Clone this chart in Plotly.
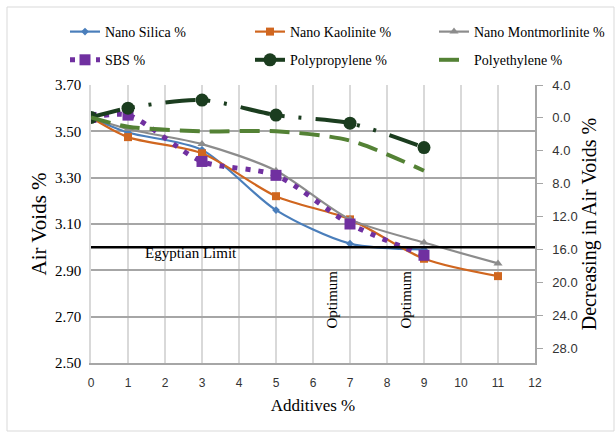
import plotly.graph_objects as go

# ---- data ----
additives_6 = [0, 1, 3, 5, 7, 9]
additives_7 = [0, 1, 3, 5, 7, 9, 11]
nano_silica = [3.56, 3.495, 3.42, 3.16, 3.015, 2.99]
nano_kaolinite = [3.56, 3.475, 3.405, 3.22, 3.12, 2.95, 2.875]
nano_montmorillonite = [3.56, 3.51, 3.445, 3.33, 3.12, 3.02, 2.93]
sbs = [3.56, 3.57, 3.37, 3.31, 3.10, 2.965]
polypropylene = [3.56, 3.60, 3.635, 3.57, 3.535, 3.43]
polyethylene = [3.56, 3.52, 3.50, 3.50, 3.46, 3.33]

x_ticks = list(range(0, 13))
left_ticks = [2.50, 2.70, 2.90, 3.10, 3.30, 3.50, 3.70]
right_ticks = [-4, 0, 4, 8, 12, 16, 20, 24, 28]
right_tick_text = ["4.0", "0.0", "4.0", "8.0", "12.0", "16.0", "20.0", "24.0", "28.0"]
right_range = [29.8, -4.0]
egyptian_limit = 3.00
optimum_x = [7, 9]
y_min, y_max = 2.50, 3.70

SERIF = "Liberation Serif"
SANS = "Liberation Sans"

fig = go.Figure()

def add(name, x, y, color, width, dash, symbol, msize, legend):
    fig.add_trace(go.Scatter(
        x=x, y=y, name=name, mode="lines+markers" if symbol else "lines",
        line=dict(color=color, width=width, dash=dash, shape="spline", smoothing=0.8),
        marker=dict(symbol=symbol or "circle", size=msize, color=color),
        legend=legend, legendgroup=name,
    ))

add("Nano Silica %", additives_6, nano_silica, "#4a7ebb", 2.2, "solid", "diamond", 6, "legend")
add("Nano Kaolinite %", additives_7, nano_kaolinite, "#d0661f", 2.2, "solid", "square", 8, "legend2")
add("Nano Montmorlinite %", additives_7, nano_montmorillonite, "#8c8c8c", 2.2, "solid", "triangle-up", 8, "legend3")
add("SBS %", additives_6, sbs, "#7030a0", 5, "5px,8px", "square", 11, "legend")
add("Polypropylene %", additives_6, polypropylene, "#1b3d1f", 4, "30px,12px,3px,14px,3px,14px", "circle", 13, "legend2")
add("Polyethylene %", additives_6, polyethylene, "#548235", 4, "20px,10px", None, 0, "legend3")

# empty trace so the secondary (right) axis is drawn
fig.add_trace(go.Scatter(x=[], y=[], yaxis="y2", showlegend=False, hoverinfo="skip"))

# Egyptian limit line
fig.add_shape(type="line", xref="x", yref="y", x0=x_ticks[0], x1=x_ticks[-1],
              y0=egyptian_limit, y1=egyptian_limit, line=dict(color="black", width=2.5))
# optimum lines
for i, xo in enumerate(optimum_x):
    fig.add_shape(type="line", xref="x", yref="y", x0=xo, x1=xo, y0=y_min, y1=y_max,
                  line=dict(color="#303030", width=1 + 0.5 * i), layer="below")
    fig.add_annotation(x=xo - 0.5, y=2.772, text="Optimum", showarrow=False, textangle=-90,
                       font=dict(family=SERIF, size=15, color="black"))

fig.add_annotation(x=2.7, y=2.973, text="Egyptian Limit", showarrow=False,
                   font=dict(family=SERIF, size=15, color="black"))

# outer chart border
fig.add_shape(type="rect", xref="paper", yref="paper",
              x0=(7 - 91) / 444, x1=(614 - 91) / 444, y0=(363 - 431) / 278, y1=(363 - 7) / 278,
              line=dict(color="#d9d9d9", width=1))

leg_common = dict(orientation="v", bgcolor="rgba(0,0,0,0)", tracegroupgap=7,
                  font=dict(family=SERIF, size=14, color="black"),
                  xanchor="left", yanchor="top", y=(363 - 16) / 278, itemwidth=30)
fig.update_layout(
    width=615, height=432,
    font=dict(family=SERIF, color="black"),
    margin=dict(l=91, r=80, t=85, b=69, autoexpand=False),
    plot_bgcolor="white", paper_bgcolor="white",
    legend=dict(**leg_common, x=(65 - 91) / 444),
    legend2=dict(**leg_common, x=(250 - 91) / 444),
    legend3=dict(**leg_common, x=(434 - 91) / 444),
    xaxis=dict(range=[0, 12], tickvals=x_ticks, showgrid=True, gridcolor="#d9d9d9", gridwidth=1.5,
               zeroline=False, showline=True, linecolor="#a6a6a6", linewidth=2, automargin=False,
               tickfont=dict(family=SANS, size=12, color="#333333"), ticks="", ticklabelstandoff=8,
               title=dict(text="Additives %", font=dict(family=SERIF, size=17, color="black"), standoff=10)),
    yaxis=dict(range=[y_min, y_max], tickvals=left_ticks, tickformat=".2f", showgrid=True,
               gridcolor="#a6a6a6", gridwidth=1.5, zeroline=False, showline=True, automargin=False,
               linecolor="#d9d9d9", linewidth=1.5,
               tickfont=dict(family=SERIF, size=15, color="black"), ticks="", ticklabelstandoff=5,
               title=dict(text="Air Voids %", font=dict(family=SERIF, size=21, color="black"), standoff=3)),
    yaxis2=dict(overlaying="y", side="right", anchor="x", automargin=False,
                range=right_range,
                tickvals=right_ticks, ticktext=right_tick_text, showgrid=False, zeroline=False,
                showline=True, linecolor="#a6a6a6", linewidth=1.5, ticks="outside", ticklen=6,
                tickcolor="#a6a6a6", tickfont=dict(family=SANS, size=13, color="#333333"),
                ticklabelstandoff=7,
                title=dict(text="Decreasing in Air Voids %", font=dict(family=SERIF, size=20, color="black"),
                           standoff=1)),
)

fig.write_html("out.html")
